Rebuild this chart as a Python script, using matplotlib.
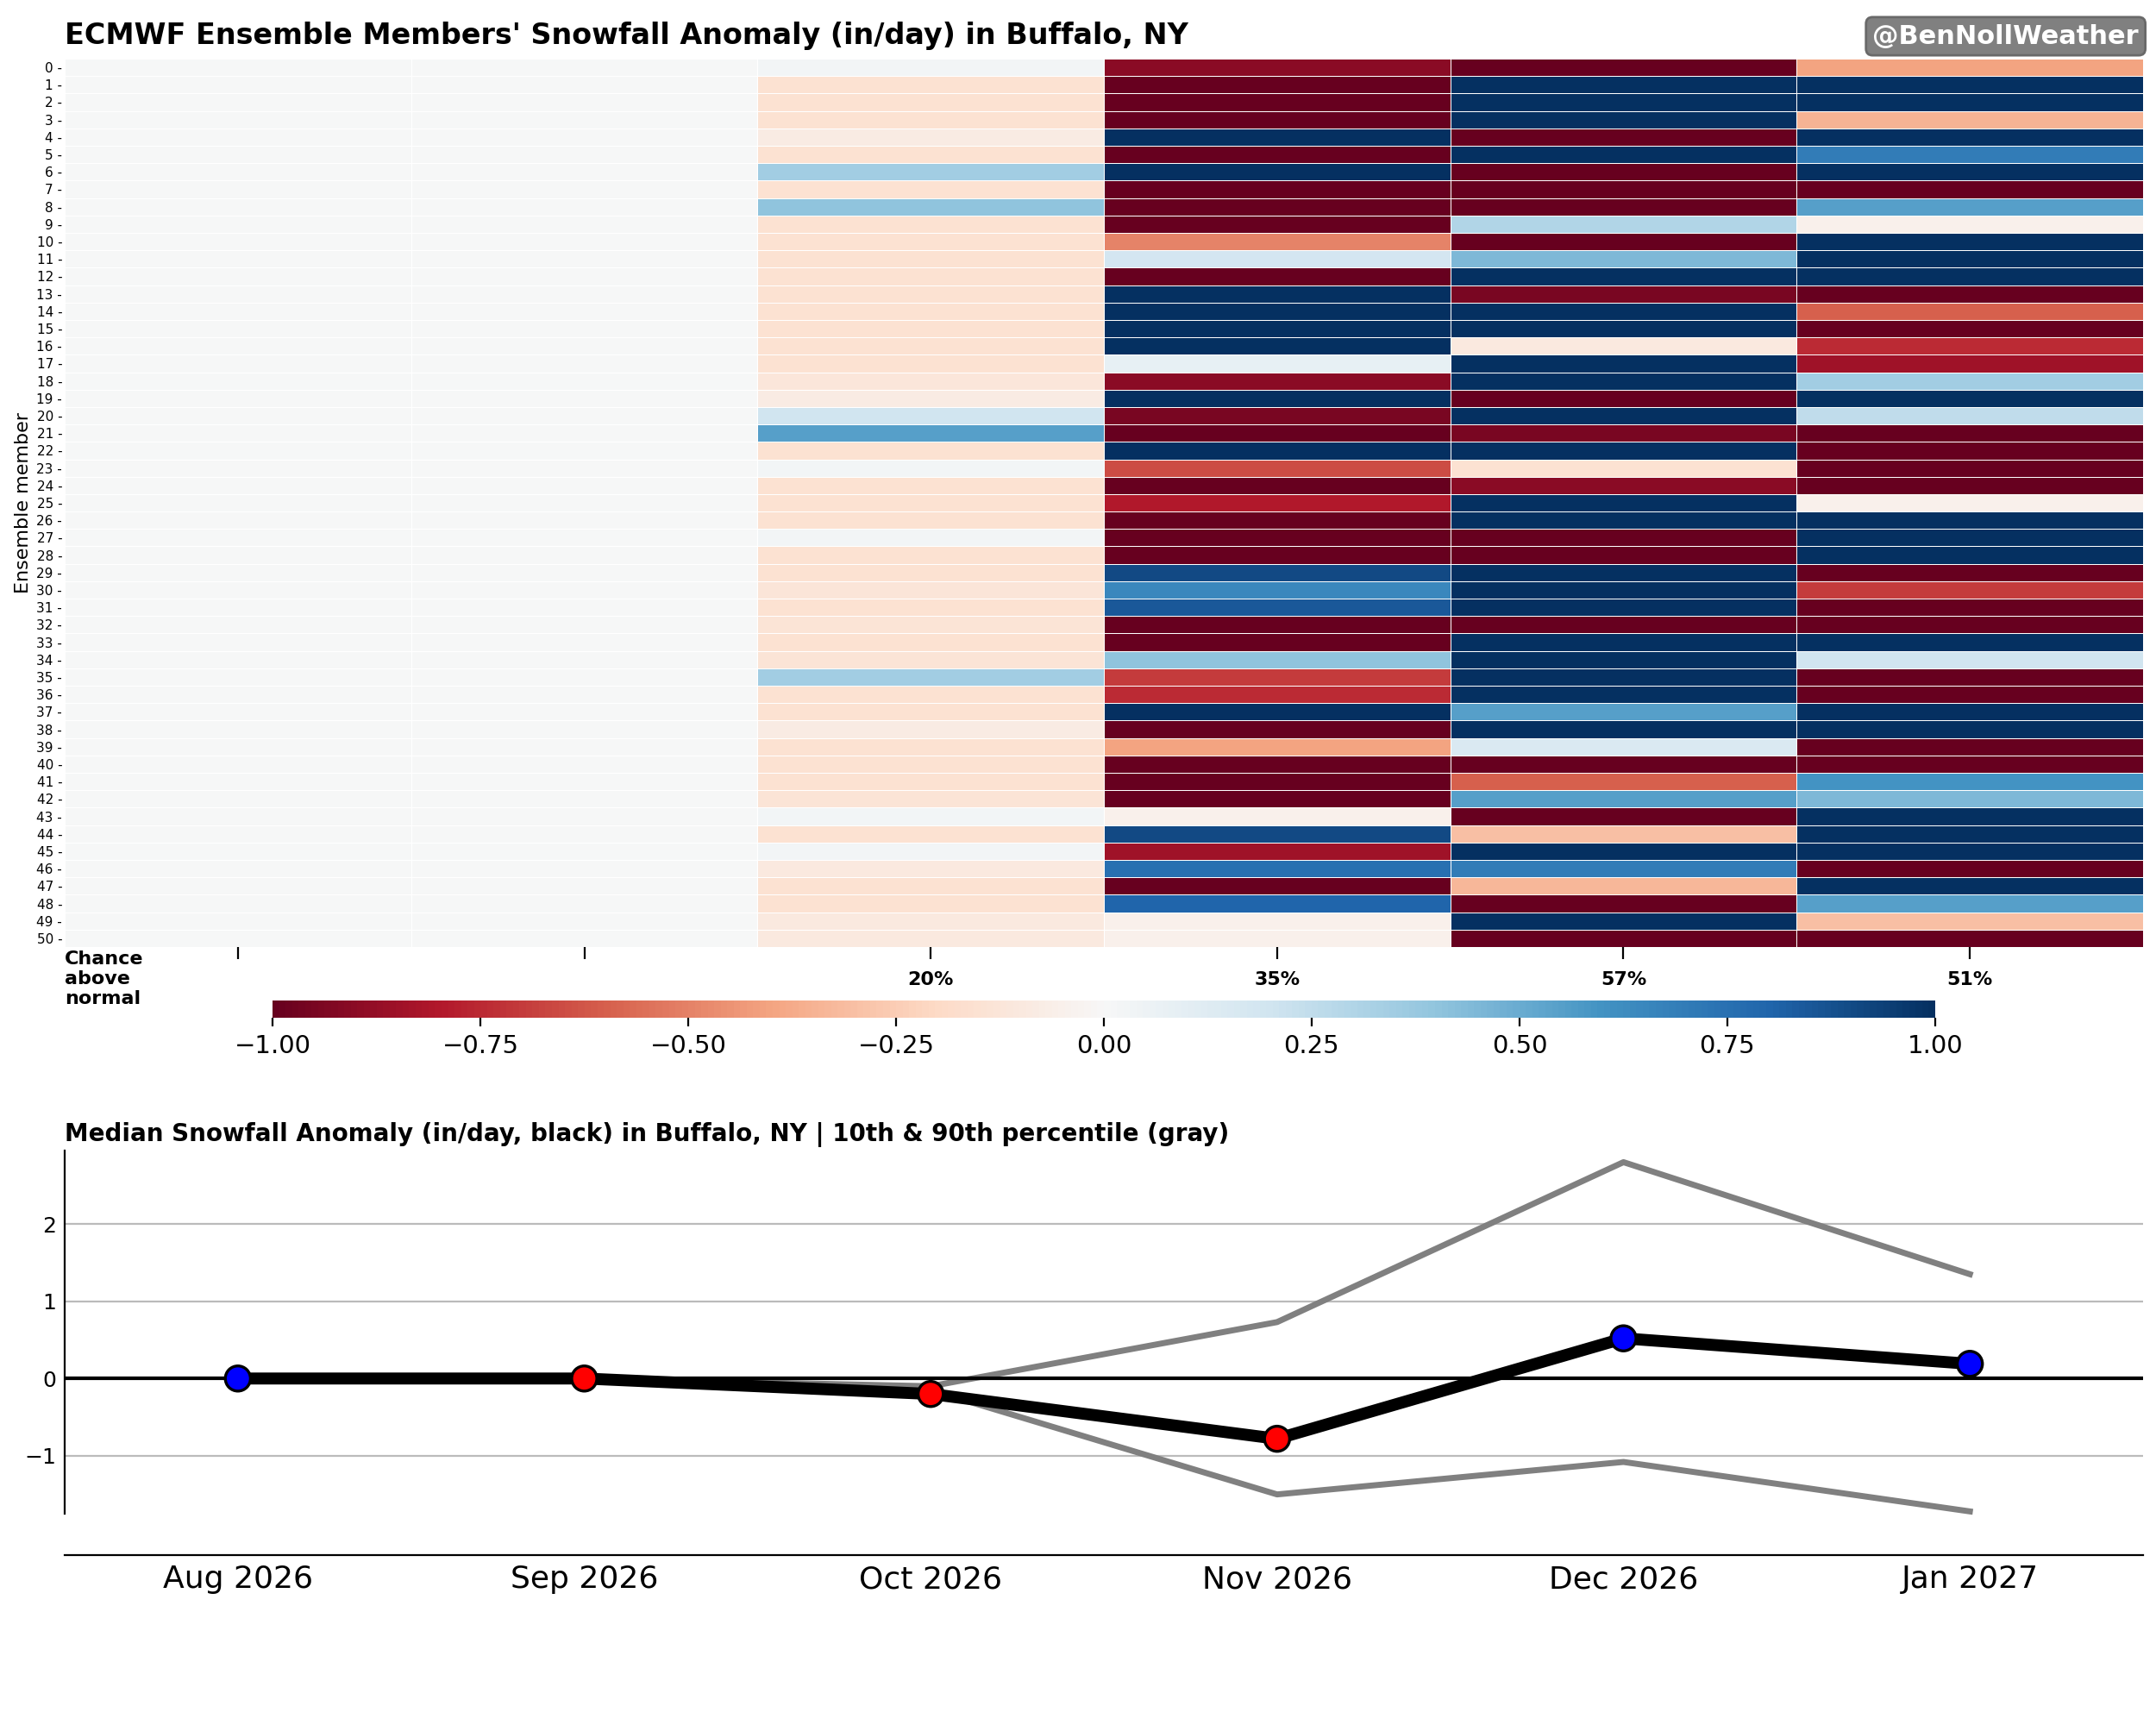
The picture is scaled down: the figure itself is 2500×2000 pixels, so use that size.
import numpy as np
import matplotlib
matplotlib.use("Agg")
import matplotlib.pyplot as plt

months = ["Aug 2026", "Sep 2026", "Oct 2026", "Nov 2026", "Dec 2026", "Jan 2027"]
members = list(range(51))

# anomaly per member for Oct, Nov, Dec, Jan (Aug/Sep ~0)
oct_vals = [0.03, -0.15, -0.15, -0.15, -0.08, -0.15, 0.35, -0.15, 0.4, -0.15,
            -0.15, -0.15, -0.15, -0.15, -0.15, -0.15, -0.15, -0.15, -0.12, -0.08,
            0.2, 0.55, -0.15, 0.03, -0.15, -0.15, -0.15, 0.03, -0.15, -0.15,
            -0.13, -0.15, -0.14, -0.15, -0.14, 0.35, -0.15, -0.15, -0.08, -0.15,
            -0.15, -0.15, -0.14, 0.03, -0.15, 0.03, -0.1, -0.15, -0.15, -0.1, -0.1]
nov_vals = [-0.9, -1, -1, -1, 1, -1, 1, -1, -1, -1,
            -0.5, 0.18, -1, 1, 1, 1, 1, 0.08, -0.9, 1,
            -0.95, -1, 1, -0.65, -1, -0.8, -1, -1, -1, 0.9,
            0.65, 0.85, -1, -1, 0.4, -0.7, -0.75, 1, -1, -0.4,
            -1, -1, -1, -0.05, 0.9, -0.85, 0.75, -1, 0.8, -0.05, -0.05]
dec_vals = [-1, 1, 1, 1, -1, 1, -1, -1, -1, 0.3,
            -1, 0.45, 1, -0.95, 1, 1, -0.1, 1, 1, -1,
            1, -0.95, 1, -0.15, -0.9, 1, 1, -1, -1, 1,
            1, 1, -1, 1, 1, 1, 1, 0.55, 1, 0.15,
            -1, -0.6, 0.55, -1, -0.3, 1, 0.7, -0.33, -1, 1, -1]
jan_vals = [-0.4, 1, 1, -0.35, 1, 0.7, 1, -1, 0.55, -0.05,
            1, 1, 1, -1, -0.6, -1, -0.75, -0.85, 0.35, 1,
            0.25, -1, -1, -1, -1, -0.05, 1, 1, 1, -1,
            -0.7, -1, -1, 1, 0.2, -1, -1, 1, 1, -1,
            -1, 0.6, 0.45, 1, 1, 1, -1, 1, 0.55, -0.3, -1]
aug_vals = [0.0] * 51
sep_vals = [0.0] * 51

chance_labels = ["", "", "20%", "35%", "57%", "51%"]

median = [0.0, 0.0, -0.2, -0.78, 0.52, 0.19]
p10 = [0.0, 0.0, -0.15, -1.5, -1.08, -1.72]
p90 = [0.0, 0.0, -0.1, 0.73, 2.8, 1.35]
marker_colors = ["blue", "red", "red", "red", "blue", "blue"]

grid = np.column_stack([aug_vals, sep_vals, oct_vals, nov_vals, dec_vals, jan_vals])

fig = plt.figure(figsize=(12.5, 10), dpi=200)

# heatmap
ax = fig.add_axes([0.030, 0.451, 0.964, 0.515])
mesh = ax.pcolormesh(grid, cmap="RdBu", vmin=-1, vmax=1, edgecolors="white", linewidth=0.3)
ax.set_xlim(0, 6)
ax.set_ylim(51, 0)
ax.set_yticks(np.arange(51) + 0.5)
ax.set_yticklabels([f"{m} -" for m in members], fontsize=5.5)
ax.tick_params(axis="y", length=0, pad=1)
ax.set_xticks(np.arange(6) + 0.5)
ax.set_xticklabels([])
ax.tick_params(axis="x", length=5)
for s in ax.spines.values():
    s.set_visible(False)
ax.set_ylabel("Ensemble member", fontsize=8, labelpad=2)
ax.set_title("ECMWF Ensemble Members' Snowfall Anomaly (in/day) in Buffalo, NY",
             loc="left", fontsize=12, fontweight="bold", pad=6)
for i, lab in enumerate(chance_labels):
    if lab:
        ax.text(i + 0.5, 52.9, lab, ha="center", va="center", fontsize=8, fontweight="bold")
ax.text(0, 51.2, "Chance\nabove\nnormal", ha="left", va="top", fontsize=8, fontweight="bold")
fig.text(0.992, 0.979, "@BenNollWeather", ha="right", va="center", fontsize=11,
         fontweight="bold", color="white",
         bbox=dict(boxstyle="round,pad=0.25", fc="gray", ec="dimgray"))

cax = fig.add_axes([0.1265, 0.410, 0.771, 0.010])
cbar = fig.colorbar(mesh, cax=cax, orientation="horizontal")
cbar.set_ticks(np.arange(-1, 1.01, 0.25))
cbar.ax.tick_params(labelsize=10.5)
cbar.outline.set_visible(False)

# median line plot
ax2 = fig.add_axes([0.030, 0.118, 0.964, 0.215])
ax2.spines["top"].set_visible(False)
ax2.spines["right"].set_visible(False)
ax2.spines["bottom"].set_position(("outward", 14))
x = np.arange(6)
ax2.plot(x, p10, color="gray", lw=2.5)
ax2.plot(x, p90, color="gray", lw=2.5)
ax2.axhline(0, color="black", lw=1.5)
ax2.plot(x, median, color="black", lw=5, zorder=3)
ax2.scatter(x, median, c=marker_colors, s=110, edgecolors="black", linewidths=1.2, zorder=4)
ax2.set_xlim(-0.5, 5.5)
ax2.set_ylim(-1.85, 2.95)
ax2.set_yticks([-1, 0, 1, 2])
ax2.yaxis.grid(True, color="#bbbbbb", lw=0.8)
ax2.set_axisbelow(True)
ax2.set_xticks(x)
ax2.set_xticklabels(months)
ax2.tick_params(axis="x", length=0, pad=4, labelsize=13)
ax2.tick_params(axis="y", labelsize=9, length=0)
ax2.spines["left"].set_bounds(-1.75, 2.95)
ax2.set_title("Median Snowfall Anomaly (in/day, black) in Buffalo, NY | 10th & 90th percentile (gray)",
              loc="left", fontsize=10, fontweight="bold", pad=4)

fig.savefig("out.png", dpi=200)
